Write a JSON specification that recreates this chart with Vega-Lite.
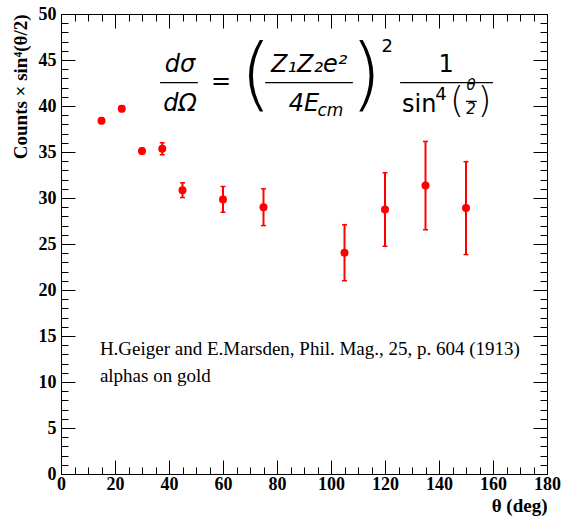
{
  "$schema": "https://vega.github.io/schema/vega-lite/v6.json",
  "width": 486,
  "height": 460,
  "autosize": {"type": "none"},
  "padding": {"left": 61, "top": 14, "right": 15, "bottom": 43},
  "background": "white",
  "config": {
    "view": {"stroke": "#000000", "strokeWidth": 1},
    "axis": {
      "domain": false, "grid": false, "tickColor": "#000000", "tickWidth": 1,
      "labelFont": "Liberation Serif", "labelFontWeight": "bold", "labelFontSize": 18, "labelColor": "#000000",
      "titleFont": "Liberation Serif", "titleFontWeight": "bold", "titleFontSize": 19, "titleColor": "#000000",
      "labelFlush": false, "labelOverlap": false
    }
  },
  "datasets": {
    "points": [
      {"theta": 15, "value": 38.4, "lo": 38.1, "hi": 38.7},
      {"theta": 22.5, "value": 39.7, "lo": 39.4, "hi": 40.0},
      {"theta": 30, "value": 35.1, "lo": 34.8, "hi": 35.4},
      {"theta": 37.5, "value": 35.35, "lo": 34.7, "hi": 36.0},
      {"theta": 45, "value": 30.85, "lo": 30.05, "hi": 31.65},
      {"theta": 60, "value": 29.85, "lo": 28.45, "hi": 31.25},
      {"theta": 75, "value": 29.0, "lo": 27.0, "hi": 31.0},
      {"theta": 105, "value": 24.05, "lo": 21.0, "hi": 27.1},
      {"theta": 120, "value": 28.75, "lo": 24.75, "hi": 32.75},
      {"theta": 135, "value": 31.35, "lo": 26.55, "hi": 36.15},
      {"theta": 150, "value": 28.9, "lo": 23.85, "hi": 33.95}
    ],
    "notes": [
      {"text": "H.Geiger and E.Marsden, Phil. Mag., 25, p. 604 (1913)", "x": 14.4, "y": 12.95},
      {"text": "alphas on gold", "x": 14.4, "y": 10.0}
    ],
    "fItalic": [
      {"text": "dσ", "x": 44.1, "y": 43.74},
      {"text": "dΩ", "x": 44.1, "y": 39.5},
      {"text": "Z₁Z₂e²", "x": 91.9, "y": 43.74}
    ],
    "fItalicRight": [
      {"text": "4E", "x": 95.6, "y": 39.5}
    ],
    "fUpright": [
      {"text": "=", "x": 59.3, "y": 41.8},
      {"text": "1", "x": 142.6, "y": 43.74}
    ],
    "fSmallItalic": [
      {"text": "cm", "x": 95.0, "y": 38.96}
    ],
    "fSup": [
      {"text": "2", "x": 120.8, "y": 45.9},
      {"text": "4", "x": 140.7, "y": 40.7}
    ],
    "fSin": [
      {"text": "sin", "x": 126.3, "y": 39.4}
    ],
    "fParenBig": [
      {"text": "(", "x": 72.2, "y": 43.1},
      {"text": ")", "x": 113, "y": 43.1}
    ],
    "fParenSmall": [
      {"text": "(", "x": 146.7, "y": 40.5},
      {"text": ")", "x": 156.9, "y": 40.5}
    ],
    "fTiny": [
      {"text": "θ", "x": 151.9, "y": 41.7},
      {"text": "2", "x": 151.9, "y": 39.1}
    ],
    "bars": [
      {"x": 36.7, "x2": 50.7, "y": 42.55},
      {"x": 75.6, "x2": 108.1, "y": 42.55},
      {"x": 125.6, "x2": 160, "y": 42.55},
      {"x": 150, "x2": 154, "y": 40.5}
    ]
  },
  "layer": [
    {
      "data": {"name": "points"},
      "mark": {"type": "rule", "color": "#ff0000", "strokeWidth": 2},
      "encoding": {
        "x": {"field": "theta", "type": "quantitative", "scale": {"domain": [0, 180], "nice": false, "zero": false},
          "axis": {"orient": "bottom", "values": [0, 20, 40, 60, 80, 100, 120, 140, 160, 180], "tickSize": -14, "labelPadding": 15, "title": "θ (deg)", "titleAnchor": "end", "titlePadding": 3}},
        "y": {"field": "lo", "type": "quantitative", "scale": {"domain": [0, 50], "nice": false, "zero": false},
          "axis": {"orient": "left", "values": [0, 5, 10, 15, 20, 25, 30, 35, 40, 45, 50], "tickSize": -14, "labelPadding": 19, "title": "Counts × sin⁴(θ/2)", "titleAnchor": "end", "titlePadding": 8}},
        "y2": {"field": "hi"}
      }
    },
    {
      "data": {"name": "points"},
      "mark": {"type": "tick", "orient": "horizontal", "color": "#ff0000", "size": 5, "thickness": 1.5, "opacity": 1},
      "encoding": {
        "x": {"field": "theta", "type": "quantitative", "scale": {"domain": [0, 180], "nice": false, "zero": false},
          "axis": {"orient": "bottom", "values": [0,5,10,15,20,25,30,35,40,45,50,55,60,65,70,75,80,85,90,95,100,105,110,115,120,125,130,135,140,145,150,155,160,165,170,175,180], "tickSize": -7, "labels": false, "title": null}},
        "y": {"field": "lo", "type": "quantitative", "scale": {"domain": [0, 50], "nice": false, "zero": false},
          "axis": {"orient": "left", "values": [0,1,2,3,4,5,6,7,8,9,10,11,12,13,14,15,16,17,18,19,20,21,22,23,24,25,26,27,28,29,30,31,32,33,34,35,36,37,38,39,40,41,42,43,44,45,46,47,48,49,50], "tickSize": -7, "labels": false, "title": null}}
      }
    },
    {
      "data": {"name": "points"},
      "mark": {"type": "tick", "orient": "horizontal", "color": "#ff0000", "size": 5, "thickness": 1.5, "opacity": 1},
      "encoding": {
        "x": {"field": "theta", "type": "quantitative", "scale": {"domain": [0, 180], "nice": false, "zero": false},
          "axis": {"orient": "top", "values": [0, 20, 40, 60, 80, 100, 120, 140, 160, 180], "tickSize": -14, "labels": false, "title": null}},
        "y": {"field": "hi", "type": "quantitative", "scale": {"domain": [0, 50], "nice": false, "zero": false},
          "axis": {"orient": "right", "values": [0, 5, 10, 15, 20, 25, 30, 35, 40, 45, 50], "tickSize": -14, "labels": false, "title": null}}
      }
    },
    {
      "data": {"name": "points"},
      "mark": {"type": "circle", "color": "#ff0000", "size": 64, "opacity": 1},
      "encoding": {
        "x": {"field": "theta", "type": "quantitative", "scale": {"domain": [0, 180], "nice": false, "zero": false},
          "axis": {"orient": "top", "values": [0,5,10,15,20,25,30,35,40,45,50,55,60,65,70,75,80,85,90,95,100,105,110,115,120,125,130,135,140,145,150,155,160,165,170,175,180], "tickSize": -7, "labels": false, "title": null}},
        "y": {"field": "value", "type": "quantitative", "scale": {"domain": [0, 50], "nice": false, "zero": false},
          "axis": {"orient": "right", "values": [0,1,2,3,4,5,6,7,8,9,10,11,12,13,14,15,16,17,18,19,20,21,22,23,24,25,26,27,28,29,30,31,32,33,34,35,36,37,38,39,40,41,42,43,44,45,46,47,48,49,50], "tickSize": -7, "labels": false, "title": null}}
      }
    },
    {
      "data": {"name": "notes"},
      "mark": {"type": "text", "align": "left", "baseline": "alphabetic", "font": "Liberation Serif", "fontSize": 19, "color": "#000000"},
      "encoding": {
        "x": {"field": "x", "type": "quantitative", "axis": null},
        "y": {"field": "y", "type": "quantitative", "axis": null},
        "text": {"field": "text"}
      }
    },
    {
      "data": {"name": "fItalic"},
      "mark": {"type": "text", "align": "center", "baseline": "alphabetic", "font": "DejaVu Sans", "fontStyle": "italic", "fontSize": 24, "color": "#000000"},
      "encoding": {
        "x": {"field": "x", "type": "quantitative", "axis": null},
        "y": {"field": "y", "type": "quantitative", "axis": null},
        "text": {"field": "text"}
      }
    },
    {
      "data": {"name": "fItalicRight"},
      "mark": {"type": "text", "align": "right", "baseline": "alphabetic", "font": "DejaVu Sans", "fontStyle": "italic", "fontSize": 24, "color": "#000000"},
      "encoding": {
        "x": {"field": "x", "type": "quantitative", "axis": null},
        "y": {"field": "y", "type": "quantitative", "axis": null},
        "text": {"field": "text"}
      }
    },
    {
      "data": {"name": "fUpright"},
      "mark": {"type": "text", "align": "center", "baseline": "alphabetic", "font": "DejaVu Sans", "fontSize": 24, "color": "#000000"},
      "encoding": {
        "x": {"field": "x", "type": "quantitative", "axis": null},
        "y": {"field": "y", "type": "quantitative", "axis": null},
        "text": {"field": "text"}
      }
    },
    {
      "data": {"name": "fSmallItalic"},
      "mark": {"type": "text", "align": "left", "baseline": "alphabetic", "font": "DejaVu Sans", "fontStyle": "italic", "fontSize": 17, "color": "#000000"},
      "encoding": {
        "x": {"field": "x", "type": "quantitative", "axis": null},
        "y": {"field": "y", "type": "quantitative", "axis": null},
        "text": {"field": "text"}
      }
    },
    {
      "data": {"name": "fSup"},
      "mark": {"type": "text", "align": "center", "baseline": "alphabetic", "font": "DejaVu Sans", "fontSize": 18, "color": "#000000"},
      "encoding": {
        "x": {"field": "x", "type": "quantitative", "axis": null},
        "y": {"field": "y", "type": "quantitative", "axis": null},
        "text": {"field": "text"}
      }
    },
    {
      "data": {"name": "fSin"},
      "mark": {"type": "text", "align": "left", "baseline": "alphabetic", "font": "DejaVu Sans", "fontSize": 24, "color": "#000000"},
      "encoding": {
        "x": {"field": "x", "type": "quantitative", "axis": null},
        "y": {"field": "y", "type": "quantitative", "axis": null},
        "text": {"field": "text"}
      }
    },
    {
      "data": {"name": "fParenBig"},
      "mark": {"type": "text", "align": "center", "baseline": "middle", "font": "DejaVu Sans", "fontWeight": 200, "fontSize": 80, "color": "#000000"},
      "encoding": {
        "x": {"field": "x", "type": "quantitative", "axis": null},
        "y": {"field": "y", "type": "quantitative", "axis": null},
        "text": {"field": "text"}
      }
    },
    {
      "data": {"name": "fParenSmall"},
      "mark": {"type": "text", "align": "center", "baseline": "middle", "font": "DejaVu Sans", "fontWeight": 200, "fontSize": 36, "color": "#000000"},
      "encoding": {
        "x": {"field": "x", "type": "quantitative", "axis": null},
        "y": {"field": "y", "type": "quantitative", "axis": null},
        "text": {"field": "text"}
      }
    },
    {
      "data": {"name": "fTiny"},
      "mark": {"type": "text", "align": "center", "baseline": "alphabetic", "font": "DejaVu Sans", "fontStyle": "italic", "fontSize": 15, "color": "#000000"},
      "encoding": {
        "x": {"field": "x", "type": "quantitative", "axis": null},
        "y": {"field": "y", "type": "quantitative", "axis": null},
        "text": {"field": "text"}
      }
    },
    {
      "data": {"name": "bars"},
      "mark": {"type": "rule", "color": "#000000", "strokeWidth": 1.3},
      "encoding": {
        "x": {"field": "x", "type": "quantitative", "axis": null},
        "x2": {"field": "x2"},
        "y": {"field": "y", "type": "quantitative", "axis": null}
      }
    }
  ],
  "resolve": {"axis": {"x": "independent", "y": "independent"}}
}
